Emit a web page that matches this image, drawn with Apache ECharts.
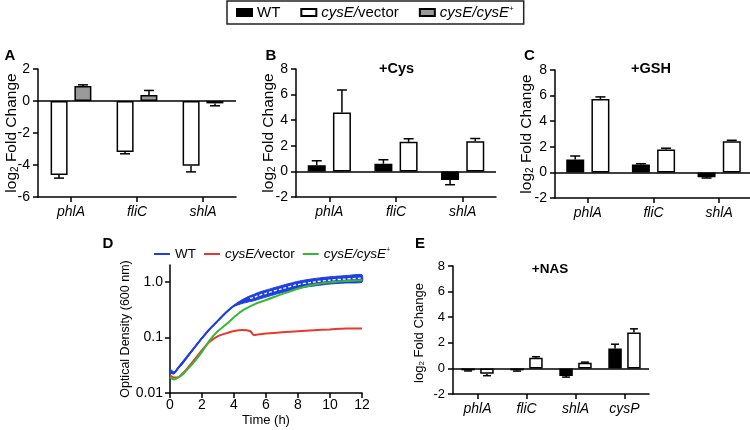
<!DOCTYPE html>
<html><head><meta charset="utf-8">
<script src="https://cdn.jsdelivr.net/npm/echarts@6/dist/echarts.min.js"></script>
<style>html,body{margin:0;padding:0;background:#fff}#wrap{position:relative;width:750px;height:430px;background:#fff}
.layer{position:absolute;left:0;top:0;width:750px;height:430px}</style>
</head><body><div id="wrap"></div>
<script>
// ---------- data ----------
const genes3 = ['phlA', 'fliC', 'shlA'];
const genes4 = ['phlA', 'fliC', 'shlA', 'cysP'];
const seriesNames = ['WT', 'cysE/vector', 'cysE/cysE+'];
// A: untreated (relative to WT)
const aVector = [-4.62, -3.18, -4.05];
const aVectorErr = [0.2, 0.12, 0.38];
const aComp = [0.93, 0.38, -0.15];
const aCompErr = [0.08, 0.28, 0.15];
// B: +Cys
const bWT = [0.49, 0.6, -0.68];
const bWTErr = [0.34, 0.31, 0.36];
const bVector = [4.6, 2.31, 2.36];
const bVectorErr = [1.76, 0.24, 0.21];
// C: +GSH
const cWT = [1.0, 0.62, -0.38];
const cWTErr = [0.28, 0.06, 0.06];
const cVector = [5.74, 1.79, 2.44];
const cVectorErr = [0.16, 0.1, 0.07];
// E: +NAS
const eWT = [-0.15, -0.15, -0.6, 1.56];
const eWTErr = [0.05, 0.06, 0.08, 0.33];
const eVector = [-0.42, 0.83, 0.44, 2.8];
const eVectorErr = [0.15, 0.08, 0.05, 0.29];
// D: growth curves
const dTime = [0, 0.25, 0.5, 0.75, 1, 1.5, 2, 2.5, 3, 3.5, 4, 4.5, 5, 5.25, 5.5, 6, 7, 8, 9, 10, 11, 12];
const dWT = [0.025, 0.023, 0.028, 0.034, 0.042, 0.064, 0.097, 0.143, 0.2, 0.28, 0.37, 0.44, 0.5, 0.525, 0.56, 0.62, 0.75, 0.89, 0.99, 1.07, 1.12, 1.16];
const dWTErr = [0.002, 0.001, 0.001, 0.002, 0.002, 0.002, 0.003, 0.004, 0.006, 0.008, 0.011, 0.035, 0.06, 0.07, 0.08, 0.09, 0.11, 0.13, 0.15, 0.16, 0.17, 0.18];
const dVector = [0.0208, 0.019, 0.019, 0.022, 0.026, 0.039, 0.059, 0.084, 0.105, 0.118, 0.13, 0.136, 0.13, 0.11, 0.113, 0.117, 0.123, 0.129, 0.134, 0.139, 0.145, 0.144];
const dComp = [0.0194, 0.0174, 0.019, 0.021, 0.025, 0.036, 0.055, 0.09, 0.13, 0.17, 0.23, 0.3, 0.36, 0.39, 0.42, 0.47, 0.6, 0.75, 0.89, 0.98, 1.03, 1.06];
const dTickLabels = {'-2': '0.01', '-1': '0.1', '0': '1.0'};
const dXTicks = [0, 12, 2];

// ---------- styling ----------
const FF = '"Liberation Sans", Arial, Helvetica, sans-serif';
const BLACK = '#000';
const C_WT = '#000000', C_VEC = '#ffffff', C_COMP = '#9a9a9a';
const L_WT = '#1f3fe0', L_VEC = '#e8392b', L_COMP = '#35b935';
const axisLine = {show: true, onZero: false, lineStyle: {color: BLACK, width: 1.5}};
const axisTick = {show: true, length: 5, lineStyle: {color: BLACK, width: 1.5}};
const nameRich = (fs) => ({
  a: {fontSize: fs, fontFamily: FF, color: BLACK, fill: BLACK},
  s: {fontSize: Math.round(fs * 0.62), fontFamily: FF, color: BLACK, fill: BLACK, verticalAlign: 'bottom'}
});
const yName = '{a|log}{s|2}{a| Fold Change}';
function catX(data, fs) {
  return {type: 'category', gridIndex: 0, data: data, boundaryGap: true,
    axisLine: axisLine, axisTick: Object.assign({alignWithLabel: true}, axisTick),
    axisLabel: {color: BLACK, fontSize: fs, fontStyle: 'italic', fontFamily: FF, margin: 8},
    splitLine: {show: false}};
}
function valY(min, max, gap, fs, nfs) {
  const ax = {type: 'value', gridIndex: 0, min: min, max: max, interval: 2,
    axisLine: axisLine, axisTick: axisTick,
    axisLabel: {color: BLACK, fontSize: fs, fontFamily: FF, margin: 8, hideOverlap: false},
    splitLine: {show: false}};
  if (gap !== null) {
    Object.assign(ax, {name: yName, nameLocation: 'middle', nameGap: gap, nameRotate: 90,
      nameMoveOverlap: false, nameTextStyle: {rich: nameRich(nfs)}});
  }
  return ax;
}
function bar(name, vals, color, bw, zero) {
  const s = {type: 'bar', name: name, data: vals, barWidth: bw, barGap: '40%', silent: true,
    itemStyle: {color: color, borderColor: BLACK, borderWidth: 1.5}};
  if (zero) {
    s.markLine = {silent: true, symbol: 'none', label: {show: false},
      lineStyle: {color: BLACK, width: 1.5, type: 'solid'}, data: [{yAxis: 0}]};
  }
  return s;
}
function errs(vals, errArr, offset, cap) {
  return {type: 'custom', z: 5, silent: true,
    data: vals.map((v, i) => [i, v, errArr[i]]),
    renderItem: function (params, api) {
      const i = api.value(0), v = api.value(1), e = api.value(2);
      const dir = v >= 0 ? 1 : -1;
      const p0 = api.coord([i, v]);
      const p1 = api.coord([i, v + dir * e]);
      const x = p0[0] + offset;
      const st = {stroke: BLACK, lineWidth: 1.5};
      return {type: 'group', children: [
        {type: 'line', shape: {x1: x, y1: p0[1], x2: x, y2: p1[1]}, style: st},
        {type: 'line', shape: {x1: x - cap, y1: p1[1], x2: x + cap, y2: p1[1]}, style: st}
      ]};
    }};
}
const txt = (text, x, y, fs, bold) => ({type: 'text', x: x, y: y, silent: true,
  style: {text: text, fontSize: fs, fontWeight: bold ? 'bold' : 'normal', fontFamily: FF, fill: BLACK,
    align: 'center', verticalAlign: 'middle'}});
const legendRich = (fs) => ({
  n: {fontSize: fs, fontFamily: FF, color: BLACK},
  i: {fontSize: fs, fontFamily: FF, color: BLACK, fontStyle: 'italic'},
  sup: {fontSize: Math.round(fs * 0.55), fontFamily: FF, color: BLACK, fontStyle: 'italic', verticalAlign: 'top'}
});
const legendFmt = function (name) {
  if (name === 'WT' || name === 'D-WT') return '{n|WT}';
  if (name === 'cysE/vector' || name === 'D-vec') return '{i|cysE/}{n|vector}';
  return '{i|cysE/cysE}{sup|+}';
};
const gridOf = (r) => [Object.assign({outerBoundsMode: 'none', containLabel: false}, r)];

// ---------- panels (each its own layer) ----------
const panels = [];

// top legend
panels.push({
  animation: false,
  grid: gridOf({left: 0, top: 0, width: 10, height: 10}),
  xAxis: [{type: 'category', show: false, data: []}],
  yAxis: [{type: 'value', show: false}],
  series: seriesNames.map((n, k) => ({type: 'bar', name: n, data: [],
    itemStyle: {color: [C_WT, C_VEC, C_COMP][k], borderColor: BLACK, borderWidth: 1.5}})),
  legend: {data: seriesNames, left: 227, top: 1, orient: 'horizontal', icon: 'rect',
    itemWidth: 15, itemHeight: 7, itemGap: 20, padding: [4, 10, 4, 9],
    borderColor: '#222', borderWidth: 1.5, selectedMode: false,
    formatter: legendFmt, textStyle: {rich: legendRich(15)}}
});
// A
panels.push({
  animation: false,
  grid: gridOf({left: 38, top: 69, width: 198, height: 128}),
  xAxis: [catX(genes3, 14)], yAxis: [valY(-6, 2, 18, 14, 15.5)],
  series: [
    bar('cysE/vector', aVector, C_VEC, 17, true),
    bar('cysE/cysE+', aComp, C_COMP, 17, false),
    errs(aVector, aVectorErr, -12, 5),
    errs(aComp, aCompErr, 12, 5)
  ],
  graphic: [txt('A', 10, 56, 15, true)]
});
// B
panels.push({
  animation: false,
  grid: gridOf({left: 296, top: 69, width: 200, height: 128}),
  xAxis: [catX(genes3, 14)], yAxis: [valY(-2, 8, 19, 14, 15.5)],
  series: [
    bar('WT', bWT, C_WT, 18, true),
    bar('cysE/vector', bVector, C_VEC, 18, false),
    errs(bWT, bWTErr, -12.6, 5),
    errs(bVector, bVectorErr, 12.6, 5)
  ],
  graphic: [txt('B', 271, 56, 15, true), txt('+Cys', 396.5, 68.5, 14.5, true)]
});
// C
panels.push({
  animation: false,
  grid: gridOf({left: 555, top: 70, width: 197, height: 128}),
  xAxis: [catX(genes3, 14)], yAxis: [valY(-2, 8, 20, 14, 15.5)],
  series: [
    bar('WT', cWT, C_WT, 18, true),
    bar('cysE/vector', cVector, C_VEC, 18, false),
    errs(cWT, cWTErr, -12.6, 5),
    errs(cVector, cVectorErr, 12.6, 5)
  ],
  graphic: [txt('C', 529.5, 56, 15, true), txt('+GSH', 651, 68.5, 14.5, true)]
});
// E (y-axis title drawn as a rotated text element)
panels.push({
  animation: false,
  grid: gridOf({left: 453, top: 266, width: 196, height: 128}),
  xAxis: [catX(genes4, 14)], yAxis: [valY(-2, 8, null, 13, 13)],
  series: [
    bar('WT', eWT, C_WT, 13.5, true),
    bar('cysE/vector', eVector, C_VEC, 13.5, false),
    errs(eWT, eWTErr, -9.45, 4),
    errs(eVector, eVectorErr, 9.45, 4)
  ],
  graphic: [
    txt('E', 420, 244, 15, true),
    txt('+NAS', 550, 269, 13.5, true),
    {type: 'text', x: 419, y: 333, rotation: Math.PI / 2, silent: true,
      style: {text: yName, rich: nameRich(13), fontSize: 13, fontFamily: FF, fill: BLACK,
        align: 'center', verticalAlign: 'middle'}}
  ]
});
// D
const bandSeries = {
  type: 'custom', silent: true, z: 3,
  data: [[dTime[0], dWT[0]]],
  renderItem: function (params, api) {
    const up = [], lo = [];
    for (let k = 0; k < dTime.length; k++) {
      up.push(api.coord([dTime[k], dWT[k] + dWTErr[k]]));
      lo.push(api.coord([dTime[k], dWT[k] - dWTErr[k]]));
    }
    return {type: 'polygon', shape: {points: up.concat(lo.reverse()), smooth: 0.2},
      style: {fill: L_WT, stroke: L_WT, lineWidth: 1}};
  }
};
const lineD = (name, vals, color, z) => ({
  type: 'line', name: name, z: z, silent: true,
  data: dTime.map((t, k) => [t, vals[k]]), smooth: 0.3, showSymbol: false, symbol: 'none',
  lineStyle: {color: color, width: 2}, itemStyle: {color: color}
});
const whiteDash = {
  type: 'line', z: 6, silent: true,
  data: dTime.map((t, k) => [t, dWT[k]]).filter(p => p[0] >= 5),
  smooth: 0.3, showSymbol: false, symbol: 'none',
  lineStyle: {color: '#ffffff', width: 1.3, type: [3, 2]}
};
panels.push({
  animation: false,
  grid: gridOf({left: 170, top: 265, width: 192, height: 128}),
  legend: {data: ['D-WT', 'D-vec', 'D-comp'], left: 154, top: 247, icon: 'rect',
    itemWidth: 16, itemHeight: 2, itemGap: 8, padding: 0, selectedMode: false,
    formatter: legendFmt, textStyle: {rich: legendRich(13.5)}},
  xAxis: [{type: 'value', gridIndex: 0, min: dXTicks[0], max: dXTicks[1], interval: dXTicks[2],
    axisLine: axisLine, axisTick: axisTick, splitLine: {show: false},
    axisLabel: {color: BLACK, fontSize: 14, fontFamily: FF, margin: 5},
    name: 'Time (h)', nameLocation: 'middle', nameGap: 21,
    nameTextStyle: {color: BLACK, fontSize: 13, fontFamily: FF}}],
  yAxis: [{type: 'log', gridIndex: 0, logBase: 10, min: 0.01, max: 2,
    axisLine: axisLine, axisTick: axisTick, splitLine: {show: false}, minorTick: {show: false},
    axisLabel: {color: BLACK, fontSize: 14, fontFamily: FF, margin: 7, showMaxLabel: false,
      formatter: function (v) {
        const k = Math.round(Math.log10(v));
        return Math.abs(Math.log10(v) - k) < 1e-6 && dTickLabels[String(k)] !== undefined ? dTickLabels[String(k)] : '';
      }},
    name: 'Optical Density (600 nm)', nameLocation: 'middle', nameGap: 38, nameRotate: 90,
    nameTextStyle: {color: BLACK, fontSize: 12.5, fontFamily: FF}}],
  series: [
    bandSeries,
    lineD('D-WT', dWT, L_WT, 4),
    whiteDash,
    lineD('D-vec', dVector, L_VEC, 7),
    lineD('D-comp', dComp, L_COMP, 7)
  ],
  graphic: [txt('D', 108, 244, 15, true)]
});

const wrap = document.getElementById('wrap');
panels.forEach(function (opt) {
  const div = document.createElement('div');
  div.className = 'layer';
  wrap.appendChild(div);
  const ch = echarts.init(div, null, {renderer: 'canvas', width: 750, height: 430});
  ch.setOption(opt);
});
</script></body></html>
